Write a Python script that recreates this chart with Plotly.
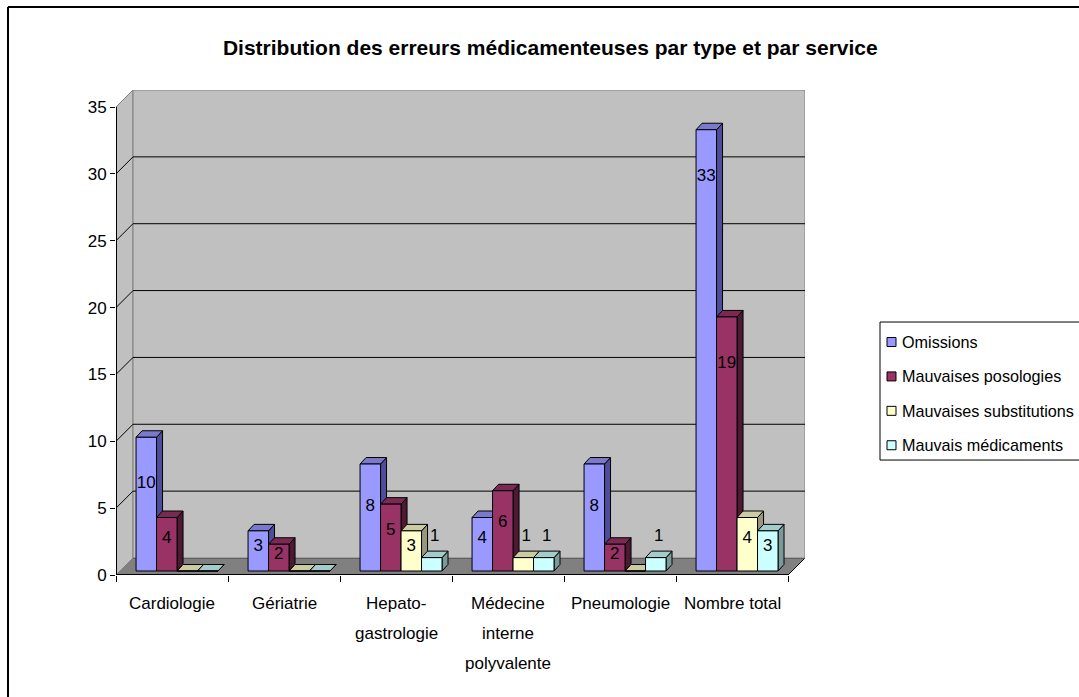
import plotly.graph_objects as go

# ---------------- data ----------------
categories = ["Cardiologie", "Gériatrie", "Hepato-<br>gastrologie",
              "Médecine<br>interne<br>polyvalente", "Pneumologie", "Nombre total"]
series_names = ["Omissions", "Mauvaises posologies",
                "Mauvaises substitutions", "Mauvais médicaments"]
omissions = [10, 3, 8, 4, 8, 33]
posologies = [4, 2, 5, 6, 2, 19]
substitutions = [0, 0, 3, 1, 0, 4]
medicaments = [0, 0, 1, 1, 1, 3]
y_ticks = [0, 5, 10, 15, 20, 25, 30, 35]
title_text = "Distribution des erreurs médicamenteuses par type et par service"

# ---------------- styles ----------------
front_colors = ["#9999FF", "#993366", "#FFFFCC", "#CCFFFF"]
top_colors = ["#7A7ACC", "#7A2952", "#CCCCA3", "#A3CCCC"]
side_colors = ["#4D4D99", "#4D1A33", "#99997A", "#7A9999"]
FONT = "Liberation Sans, Arial, sans-serif"

W, H = 1079, 697
L, T = 116, 90
PX_X = 112.0     # pixels per category unit
PX_Y = 13.37     # pixels per value unit
DX = 17 / PX_X   # wall depth
DY = 17 / PX_Y
XMAX = len(categories) - 0.5 + DX
YMAX = max(y_ticks) + DY
PW = (XMAX + 0.5) * PX_X
PH = YMAX * PX_Y
R = W - L - PW
B = H - T - PH

BW = 0.183
START = -2 * BW + 0.045
BASE = 0.3
BDX = 6 / PX_X
BDY = 6.5 / PX_Y

series = [omissions, posologies, substitutions, medicaments]
idx = list(range(len(categories)))

fig = go.Figure()
shapes = []


def poly(pts, fill, line="black", width=1):
    p = "M " + " L ".join(f"{x},{y}" for x, y in pts) + " Z"
    return dict(type="path", path=p, xref="x", yref="y", fillcolor=fill,
                line=dict(color=line, width=width), layer="below")


def px2paper(px, py):
    return (px - L) / PW, (H - B - py) / PH


x0w, x1w = -0.5, len(categories) - 0.5
ytop = max(y_ticks)
# floor
shapes.append(poly([(x0w, 0), (x1w, 0), (x1w + DX, DY), (x0w + DX, DY)], "#808080", "#000000", 1))
# left wall
shapes.append(poly([(x0w, 0), (x0w + DX, DY), (x0w + DX, ytop + DY), (x0w, ytop)], "#C0C0C0", "#808080", 1))
# back wall
shapes.append(poly([(x0w + DX, DY), (x1w + DX, DY), (x1w + DX, ytop + DY), (x0w + DX, ytop + DY)],
                   "#C0C0C0", "#808080", 1))
# grid lines
for v in y_ticks[1:-1]:
    shapes.append(dict(type="line", xref="x", yref="y", x0=x0w, y0=v, x1=x0w + DX, y1=v + DY,
                       line=dict(color="black", width=1), layer="below"))
    shapes.append(dict(type="line", xref="x", yref="y", x0=x0w + DX, y0=v + DY, x1=x1w + DX, y1=v + DY,
                       line=dict(color="black", width=1), layer="below"))

# 3D faces of the bars
for c in idx:
    for s, vals in enumerate(series):
        bx0 = c + START + s * BW
        bx1 = bx0 + BW
        top = vals[c] + BASE
        shapes.append(poly([(bx1, BASE), (bx1, top), (bx1 + BDX, top + BDY), (bx1 + BDX, BASE + BDY)],
                           side_colors[s]))
        shapes.append(poly([(bx0, top), (bx1, top), (bx1 + BDX, top + BDY), (bx0 + BDX, top + BDY)],
                           top_colors[s]))

# axis lines
shapes.append(dict(type="line", xref="x", yref="y", x0=x0w, y0=0, x1=x0w, y1=ytop,
                   line=dict(color="black", width=2)))
shapes.append(dict(type="line", xref="x", yref="y", x0=x0w, y0=0, x1=x1w, y1=0,
                   line=dict(color="black", width=2)))

# outer chart border (paper coordinates)
bx, by = px2paper(8, 7)
ex, ey = px2paper(W + 5, H + 5)
shapes.append(dict(type="line", xref="paper", yref="paper", x0=bx, y0=by, x1=bx, y1=ey,
                   line=dict(color="black", width=2)))
shapes.append(dict(type="line", xref="paper", yref="paper", x0=bx, y0=by, x1=ex, y1=by,
                   line=dict(color="black", width=2)))

# bars (front faces)
for s, vals in enumerate(series):
    fig.add_trace(go.Bar(
        x=idx, y=vals, base=BASE, width=BW, offset=START + s * BW,
        name=series_names[s], showlegend=False,
        marker=dict(color=front_colors[s], line=dict(color="black", width=1)),
        hoverinfo="skip"))

# value labels
lx, ly, lt = [], [], []
for s, vals in enumerate(series):
    for c in idx:
        v = vals[c]
        if v == 0:
            continue
        cx = c + START + s * BW + BW / 2
        if v == 1:
            lx.append(cx + BDX / 2)
            ly.append(v + BASE + 1.55)
        else:
            lx.append(cx)
            ly.append(v + BASE - min(0.4 * v, 3.5))
        lt.append(str(v))
fig.add_trace(go.Scatter(x=lx, y=ly, text=lt, mode="text", showlegend=False,
                         textfont=dict(family=FONT, size=17, color="black"),
                         hoverinfo="skip", cliponaxis=False))

# category labels as annotations (one per line for Excel-like spacing)
annotations = []
for c, cat in enumerate(categories):
    for k, line in enumerate(cat.split("<br>")):
        annotations.append(dict(x=c, y=0, xref="x", yref="paper", text=line, showarrow=False,
                                yanchor="middle", yshift=-(28 + 30 * k),
                                font=dict(family=FONT, size=17, color="black")))

# legend (drawn by hand so that it sits like the Excel one)
lg_x0, lg_y0 = px2paper(880, 322)
lg_x1, lg_y1 = px2paper(W + 10, 460)
shapes.append(dict(type="rect", xref="paper", yref="paper", x0=lg_x0, y0=lg_y0, x1=lg_x1, y1=lg_y1,
                   line=dict(color="black", width=1), fillcolor="white", layer="above"))
for s, name in enumerate(series_names):
    cy = 342 + 34.4 * s
    sx0, sy0 = px2paper(887, cy - 4.5)
    sx1, sy1 = px2paper(896, cy + 4.5)
    shapes.append(dict(type="rect", xref="paper", yref="paper", x0=sx0, y0=sy0, x1=sx1, y1=sy1,
                       line=dict(color="black", width=1), fillcolor=front_colors[s], layer="above"))
    tx, ty = px2paper(900, cy)
    annotations.append(dict(x=tx, y=ty, xref="paper", yref="paper", text=name, showarrow=False,
                            xanchor="left", yanchor="middle",
                            font=dict(family=FONT, size=16.2, color="black")))

fig.update_layout(
    width=W, height=H,
    margin=dict(l=L, r=R, t=T, b=B, pad=0),
    paper_bgcolor="white", plot_bgcolor="white",
    barmode="overlay",
    shapes=shapes,
    annotations=annotations,
    title=dict(text="<b>" + title_text + "</b>", x=0.51, xref="container", xanchor="center",
               y=1 - 48 / H, yref="container", yanchor="middle",
               font=dict(family=FONT, size=21, color="black")),
    xaxis=dict(range=[-0.5, XMAX], tickvals=[i - 0.5 for i in range(len(categories) + 1)],
               ticktext=[""] * (len(categories) + 1), ticks="outside", ticklen=6,
               tickcolor="black", showgrid=False, zeroline=False, showline=False, fixedrange=True),
    yaxis=dict(range=[0, YMAX], tickvals=y_ticks, ticks="outside", ticklen=5, tickcolor="black",
               showgrid=False, zeroline=False, showline=False,
               tickfont=dict(family=FONT, size=17, color="black"), fixedrange=True),
    showlegend=False,
)

fig.write_html("out.html")
